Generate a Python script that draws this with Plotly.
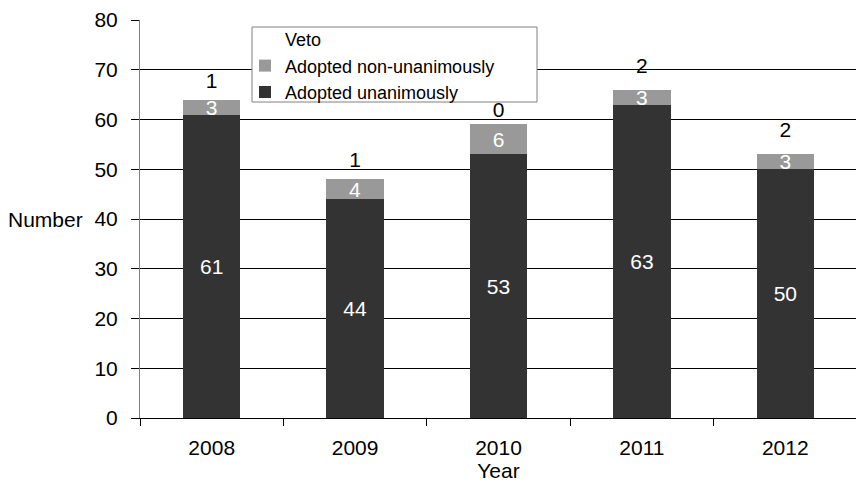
import plotly.graph_objects as go

years = ["2008", "2009", "2010", "2011", "2012"]
unanimous = [61, 44, 53, 63, 50]
non_unanimous = [3, 4, 6, 3, 3]
veto = [1, 1, 0, 2, 2]

FONT = "Liberation Sans, Arial, sans-serif"
DARK = "#333333"
GRAY = "#999999"
FS = 21

# plot area spans x 140..857, y 20..418 on the page (page has 8px body margin)
PX0, PX1, PY0, PY1 = 140, 857, 20, 418
def px(x):
    return (x - PX0) / (PX1 - PX0)
def py(y):
    return (PY1 - y) / (PY1 - PY0)

fig = go.Figure()
fig.add_trace(go.Bar(
    x=years, y=unanimous, name="Adopted unanimously",
    marker=dict(color=DARK, line=dict(width=0)),
    text=[str(v) for v in unanimous], textposition="inside", textangle=0,
    insidetextanchor="middle", constraintext="none",
    textfont=dict(color="white", size=FS, family=FONT),
    width=0.4,
))
fig.add_trace(go.Bar(
    x=years, y=non_unanimous, name="Adopted non-unanimously",
    marker=dict(color=GRAY, line=dict(width=0)),
    text=[str(v) for v in non_unanimous], textposition="inside", textangle=0,
    insidetextanchor="middle", constraintext="none",
    textfont=dict(color="white", size=FS, family=FONT),
    width=0.4,
))
fig.add_trace(go.Bar(
    x=years, y=veto, name="Veto",
    marker=dict(color="rgba(0,0,0,0)", line=dict(width=0)),
    text=[str(v) for v in veto], textposition="outside", textangle=0,
    cliponaxis=False, constraintext="none",
    textfont=dict(color="black", size=FS, family=FONT),
    width=0.4,
))

fig.update_layout(
    barmode="stack",
    width=864, height=483,
    margin=dict(l=132, r=15, t=12, b=73, autoexpand=False),
    paper_bgcolor="white", plot_bgcolor="white",
    font=dict(family=FONT, size=FS, color="black"),
    showlegend=True,
    hovermode=False,
    legend=dict(
        x=px(245), y=py(21), xanchor="left", yanchor="top",
        traceorder="reversed",
        bgcolor="rgba(0,0,0,0)", borderwidth=0,
        font=dict(size=18, family=FONT),
        itemwidth=30, tracegroupgap=0,
    ),
    xaxis=dict(
        type="category", automargin=False,
        showline=True, linecolor="black", linewidth=1,
        ticks="outside", tickson="boundaries", ticklen=7, tickcolor="black",
        showgrid=False,
        tickfont=dict(size=FS),
        ticklabelstandoff=11,
        title=dict(text="Year", font=dict(size=FS), standoff=0),
    ),
    yaxis=dict(
        range=[0, 80], dtick=10, automargin=False,
        showline=True, linecolor="#808080", linewidth=1,
        ticks="outside", ticklen=8, tickcolor="black",
        showgrid=True, gridcolor="black", gridwidth=1,
        zeroline=False,
        tickfont=dict(size=FS),
        ticklabelstandoff=9,
    ),
    shapes=[dict(
        type="rect", xref="paper", yref="paper", layer="above",
        x0=px(252), x1=px(537), y0=py(102), y1=py(27),
        fillcolor="white", line=dict(color="#808080", width=1),
    )],
    annotations=[dict(
        text="Number", xref="paper", yref="paper", x=px(85), y=py(220),
        xanchor="right", yanchor="middle", showarrow=False,
        font=dict(size=FS),
    )],
)

fig.write_html("out.html")
